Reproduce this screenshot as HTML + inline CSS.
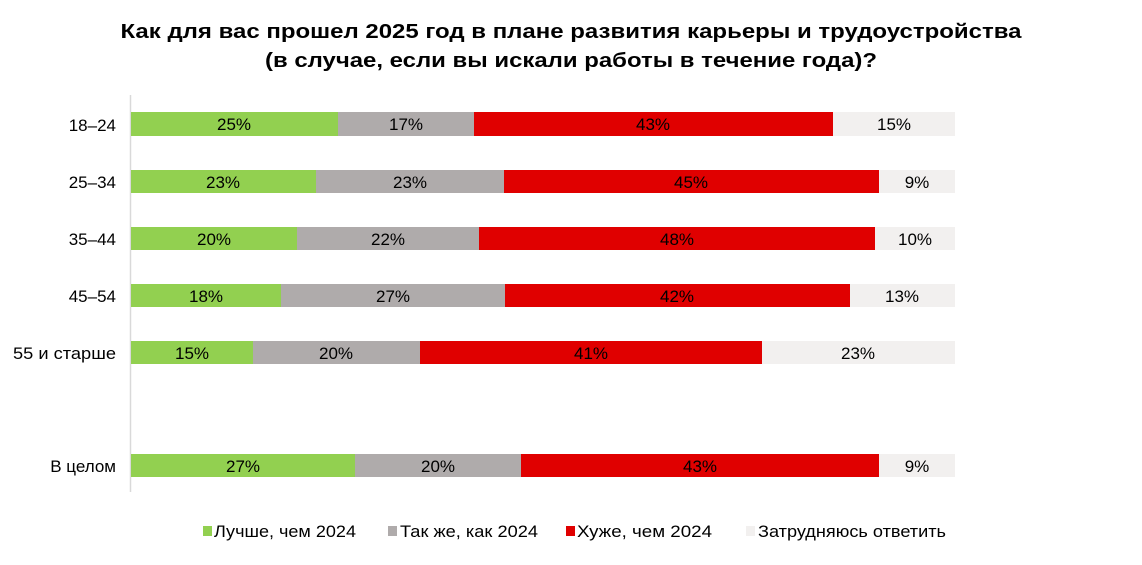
<!DOCTYPE html>
<html><head><meta charset="utf-8"><style>
body{margin:0;background:#fff;}
svg text{font-family:"Liberation Sans",Arial,sans-serif;}
</style></head><body>
<svg width="1142" height="560" xmlns="http://www.w3.org/2000/svg">
<text x="571" y="38" text-anchor="middle" font-size="20" font-weight="bold" textLength="901" lengthAdjust="spacingAndGlyphs">Как для вас прошел 2025 год в плане развития карьеры и трудоустройства</text>
<text x="571" y="67" text-anchor="middle" font-size="20" font-weight="bold" textLength="612" lengthAdjust="spacingAndGlyphs">(в случае, если вы искали работы в течение года)?</text>
<line x1="130.5" y1="95" x2="130.5" y2="492" stroke="#d9d9d9" stroke-width="1.5"/>
<g font-size="17" text-anchor="middle">
<rect x="131" y="112" width="207" height="24" fill="#92d050"/><rect x="338" y="112" width="136" height="24" fill="#afabab"/><rect x="474" y="112" width="359" height="24" fill="#e00000"/><rect x="833" y="112" width="122" height="24" fill="#f2f0ef"/>
<text x="234" y="130">25%</text><text x="406" y="130">17%</text><text x="653" y="130">43%</text><text x="894" y="130">15%</text>
<rect x="131" y="170" width="185" height="23" fill="#92d050"/><rect x="316" y="170" width="188" height="23" fill="#afabab"/><rect x="504" y="170" width="375" height="23" fill="#e00000"/><rect x="879" y="170" width="76" height="23" fill="#f2f0ef"/>
<text x="223" y="188">23%</text><text x="410" y="188">23%</text><text x="691" y="188">45%</text><text x="917" y="188">9%</text>
<rect x="131" y="227" width="166" height="23" fill="#92d050"/><rect x="297" y="227" width="182" height="23" fill="#afabab"/><rect x="479" y="227" width="396" height="23" fill="#e00000"/><rect x="875" y="227" width="80" height="23" fill="#f2f0ef"/>
<text x="214" y="245">20%</text><text x="388" y="245">22%</text><text x="677" y="245">48%</text><text x="915" y="245">10%</text>
<rect x="131" y="284" width="150" height="23" fill="#92d050"/><rect x="281" y="284" width="224" height="23" fill="#afabab"/><rect x="505" y="284" width="345" height="23" fill="#e00000"/><rect x="850" y="284" width="105" height="23" fill="#f2f0ef"/>
<text x="206" y="302">18%</text><text x="393" y="302">27%</text><text x="677" y="302">42%</text><text x="902" y="302">13%</text>
<rect x="131" y="341" width="122" height="23" fill="#92d050"/><rect x="253" y="341" width="167" height="23" fill="#afabab"/><rect x="420" y="341" width="342" height="23" fill="#e00000"/><rect x="762" y="341" width="193" height="23" fill="#f2f0ef"/>
<text x="192" y="359">15%</text><text x="336" y="359">20%</text><text x="591" y="359">41%</text><text x="858" y="359">23%</text>
<rect x="131" y="454" width="224" height="23" fill="#92d050"/><rect x="355" y="454" width="166" height="23" fill="#afabab"/><rect x="521" y="454" width="358" height="23" fill="#e00000"/><rect x="879" y="454" width="76" height="23" fill="#f2f0ef"/>
<text x="243" y="472">27%</text><text x="438" y="472">20%</text><text x="700" y="472">43%</text><text x="917" y="472">9%</text>
</g>
<g font-size="17" text-anchor="end">
<text x="116" y="131">18–24</text><text x="116" y="188">25–34</text><text x="116" y="245">35–44</text><text x="116" y="302">45–54</text><text x="116" y="359" textLength="103" lengthAdjust="spacingAndGlyphs">55 и старше</text><text x="116" y="472">В целом</text>
</g>
<g font-size="17">
<rect x="203" y="526" width="9" height="10" fill="#92d050"/><text x="214" y="537" textLength="142" lengthAdjust="spacingAndGlyphs">Лучше, чем 2024</text>
<rect x="388" y="526" width="9" height="10" fill="#afabab"/><text x="400" y="537" textLength="138" lengthAdjust="spacingAndGlyphs">Так же, как 2024</text>
<rect x="566" y="526" width="9" height="10" fill="#e00000"/><text x="577" y="537" textLength="135" lengthAdjust="spacingAndGlyphs">Хуже, чем 2024</text>
<rect x="746" y="526" width="9" height="10" fill="#f2f0ef"/><text x="758" y="537" textLength="188" lengthAdjust="spacingAndGlyphs">Затрудняюсь ответить</text>
</g>
</svg>
</body></html>
